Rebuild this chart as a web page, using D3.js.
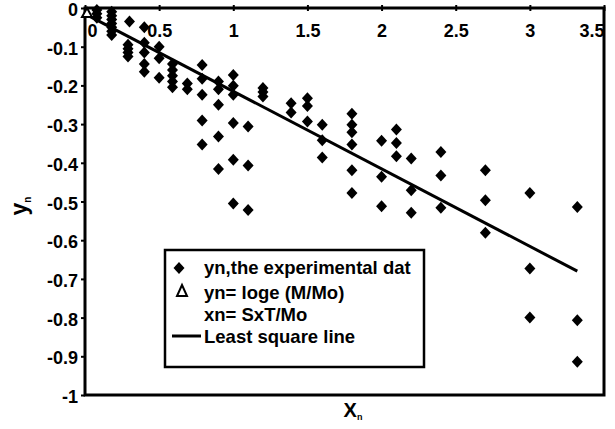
<!DOCTYPE html>
<html>
<head>
<meta charset="utf-8">
<script src="https://cdn.jsdelivr.net/npm/d3@7"></script>
<style>
  body { margin: 0; background: #fff; }
  svg { font-family: Arial, "Liberation Sans", sans-serif; }
</style>
</head>
<body>
<svg width="615" height="429"></svg>
<script>
// experimental points (xn, yn)
const expX = [0.08, 0.08, 0.08, 0.18, 0.18, 0.18, 0.18, 0.18, 0.18, 0.18, 0.30, 0.40,
  0.29, 0.29, 0.29, 0.29, 0.40, 0.40, 0.40, 0.40, 0.50, 0.50, 0.50,
  0.59, 0.59, 0.59, 0.59, 0.59, 0.69, 0.69,
  0.79, 0.79, 0.79, 0.79, 0.79, 0.90, 0.90, 0.90, 0.90, 0.90,
  1.0, 1.0, 1.0, 1.0, 1.0, 1.0, 1.1, 1.1, 1.1, 1.2, 1.2, 1.2,
  1.39, 1.39, 1.5, 1.5, 1.5, 1.6, 1.6, 1.6,
  1.8, 1.8, 1.8, 1.8, 1.8, 1.8, 2.0, 2.0, 2.0, 2.1, 2.1, 2.1,
  2.2, 2.2, 2.2, 2.4, 2.4, 2.4, 2.7, 2.7, 2.7, 3.0, 3.0, 3.0, 3.32, 3.32, 3.32];
const expY = [-0.005, -0.015, -0.025, -0.01, -0.02, -0.03, -0.04, -0.05, -0.06, -0.07, -0.035, -0.05,
  -0.095, -0.105, -0.115, -0.125, -0.09, -0.115, -0.145, -0.165, -0.10, -0.13, -0.18,
  -0.145, -0.16, -0.175, -0.19, -0.205, -0.195, -0.21,
  -0.147, -0.183, -0.224, -0.291, -0.353, -0.19, -0.21, -0.25, -0.332, -0.416,
  -0.173, -0.201, -0.224, -0.297, -0.392, -0.505, -0.306, -0.407, -0.522, -0.207, -0.217, -0.229,
  -0.246, -0.27, -0.233, -0.253, -0.293, -0.302, -0.342, -0.386,
  -0.273, -0.302, -0.321, -0.353, -0.419, -0.478, -0.343, -0.436, -0.512, -0.314, -0.349, -0.383,
  -0.389, -0.471, -0.529, -0.372, -0.433, -0.516, -0.419, -0.497, -0.581, -0.478, -0.673, -0.80, -0.514, -0.807, -0.914];

// triangle series (only the origin)
const triX = [0];
const triY = [0];

// least square line end points
const lineX = [0, 3.32];
const lineY = [-0.015, -0.68];

const xTicks = [0, 0.5, 1, 1.5, 2, 2.5, 3, 3.5];
const yTicks = [0, -0.1, -0.2, -0.3, -0.4, -0.5, -0.6, -0.7, -0.8, -0.9, -1];
const legendLabels = ['yn,the experimental dat', 'yn= loge (M/Mo)', 'xn= SxT/Mo', 'Least square line'];

const svg = d3.select('svg');

const x = d3.scaleLinear().domain([0, 3.5]).range([85, 604]);
const y = d3.scaleLinear().domain([-1, 0]).range([395, 8]);

// diamond marker
const diamond = 'M0,-6L5.5,0L0,6L-5.5,0Z';

// frame
svg.append('rect')
  .attr('x', x(0)).attr('y', y(0))
  .attr('width', x(3.5) - x(0)).attr('height', y(-1) - y(0))
  .attr('fill', 'none').attr('stroke', '#000').attr('stroke-width', 3);

// x axis on top, labels inside the plot
const xAxis = svg.append('g')
  .attr('transform', `translate(0,${y(0)})`)
  .call(d3.axisTop(x).tickValues(xTicks).tickSize(4).tickFormat(d3.format('')));
xAxis.select('.domain').remove();
xAxis.selectAll('line').attr('stroke-width', 2).attr('y2', -3).attr('y1', 3);
xAxis.selectAll('text')
  .attr('y', 29)
  .attr('dy', 0)
  .attr('font-size', 18)
  .attr('font-weight', 'bold')
  .attr('fill', '#000')
  .attr('text-anchor', 'middle')
  .attr('font-family', 'Arial, "Liberation Sans", sans-serif')
  .filter(d => d === 0 || d === 3.5).attr('text-anchor', d => d === 0 ? 'start' : 'end')
  .attr('x', d => d === 0 ? 2 : 0);

// y axis
const yAxis = svg.append('g')
  .attr('transform', `translate(${x(0)},0)`)
  .call(d3.axisLeft(y).tickValues(yTicks).tickSize(4).tickPadding(3).tickFormat(d3.format('')));
yAxis.select('.domain').remove();
yAxis.selectAll('line').attr('stroke-width', 2);
yAxis.selectAll('text')
  .attr('font-size', 18)
  .attr('font-weight', 'bold')
  .attr('fill', '#000')
  .attr('dy', '0.42em')
  .attr('font-family', 'Arial, "Liberation Sans", sans-serif')
  .text(d => d3.format('')(d).replace('\u2212', '-'));

// least square line
svg.append('line')
  .attr('x1', x(lineX[0])).attr('y1', y(lineY[0]))
  .attr('x2', x(lineX[1])).attr('y2', y(lineY[1]))
  .attr('stroke', '#000').attr('stroke-width', 3);

// experimental points
svg.append('g').selectAll('path')
  .data(expX.map((d, i) => [d, expY[i]]))
  .join('path')
  .attr('d', diamond)
  .attr('transform', d => `translate(${x(d[0])},${y(d[1])})`)
  .attr('fill', '#000');

// triangle points
svg.append('g').selectAll('path')
  .data(triX.map((d, i) => [d, triY[i]]))
  .join('path')
  .attr('d', 'M0,-5L5,4L-5,4Z')
  .attr('transform', d => `translate(${x(d[0]) + 2},${y(d[1]) + 5})`)
  .attr('fill', '#fff').attr('stroke', '#000').attr('stroke-width', 2);

// axis titles
const yTitle = svg.append('text')
  .attr('transform', 'translate(27,206) rotate(-90)')
  .attr('font-size', 23).attr('font-weight', 'bold').attr('text-anchor', 'middle');
yTitle.append('tspan').text('y');
yTitle.append('tspan').attr('font-size', 10).attr('dy', 4).text('n');

const xTitle = svg.append('text')
  .attr('x', 353).attr('y', 417)
  .attr('font-size', 20).attr('font-weight', 'bold').attr('text-anchor', 'middle');
xTitle.append('tspan').text('X');
xTitle.append('tspan').attr('font-size', 9).attr('dy', 3).text('n');

// legend
const legend = svg.append('g');
legend.append('rect')
  .attr('x', 165).attr('y', 250).attr('width', 259).attr('height', 117)
  .attr('fill', '#fff').attr('stroke', '#000').attr('stroke-width', 2.5);
legend.append('path').attr('d', diamond).attr('transform', 'translate(179,268)').attr('fill', '#000');
legend.append('path').attr('d', 'M0,-6L5,5L-5,5Z').attr('transform', 'translate(182,291)')
  .attr('fill', 'none').attr('stroke', '#000').attr('stroke-width', 2);
legend.append('line').attr('x1', 172).attr('x2', 201).attr('y1', 336).attr('y2', 336)
  .attr('stroke', '#000').attr('stroke-width', 3);
legend.selectAll('text.lab')
  .data(legendLabels)
  .join('text')
  .attr('class', 'lab')
  .attr('x', 204)
  .attr('y', (d, i) => [274, 299, 321, 343][i])
  .attr('font-size', 18.5)
  .attr('font-weight', 'bold')
  .text(d => d);
</script>
</body>
</html>
